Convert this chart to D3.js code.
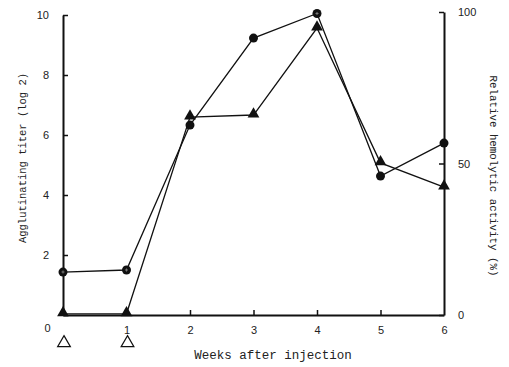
<!DOCTYPE html>
<html>
<head>
<meta charset="utf-8">
<script src="https://cdn.jsdelivr.net/npm/d3@7"></script>
<style>
  body { margin: 0; background: #fff; }
  svg { display: block; }
  .tick text { font-family: "Liberation Sans", Arial, sans-serif; font-size: 11px; fill: #222; }
  .title { font-family: "Liberation Mono", "DejaVu Sans Mono", monospace; fill: #222; }
</style>
</head>
<body>
<div id="chart"></div>
<script>
// weeks after injection
let weeks = [0, 1, 2, 3, 4, 5, 6];
// agglutinating titer (log 2), circles, left axis
let titer = [1.43, 1.5, 6.33, 9.23, 10.05, 4.63, 5.73];
// relative hemolytic activity (%), triangles, right axis
let hemolytic = [0.4, 0.4, 65.3, 66, 94.7, 50.2, 42.2];
// injection times (open triangles under the axis)
let injections = [0, 1];

let leftTicks = [0, 2, 4, 6, 8, 10];
let rightTicks = [0, 50, 100];

let svgWidth = 509;
let svgHeight = 367;

let svg = d3.select("#chart")
  .append("svg")
  .attr("width", svgWidth)
  .attr("height", svgHeight);

let x = d3.scaleLinear().domain([0, 6]).range([63, 444]);
let yLeft = d3.scaleLinear().domain([0, 10]).range([315, 15]);
let yRight = d3.scaleLinear().domain([0, 100]).range([315, 12]);

// axes
let leftAxis = d3.axisLeft(yLeft).tickValues(leftTicks).tickSizeInner(-5).tickSizeOuter(0).tickPadding(14);
let gL = svg.append("g").attr("transform", `translate(${x(0)},0)`).call(leftAxis);
gL.selectAll(".tick").filter(d => d === 0).select("text").remove();

let rightAxis = d3.axisRight(yRight).tickValues(rightTicks).tickSizeInner(-5).tickSizeOuter(0).tickPadding(14);
svg.append("g").attr("transform", `translate(${x(6)},0)`).call(rightAxis);

let bottomAxis = d3.axisBottom(x).tickValues(weeks).tickFormat(d3.format("d"))
  .tickSizeInner(-5).tickSizeOuter(0).tickPadding(11);
let gB = svg.append("g").attr("transform", `translate(0,${yLeft(0)})`).call(bottomAxis);
gB.selectAll(".tick").filter(d => d === 0 || d === 6).select("line").remove();
gB.selectAll(".tick").filter(d => d === 0).select("text").attr("dx", -16).attr("dy", "0.5em");

svg.selectAll(".domain").attr("stroke", "#111").attr("stroke-width", 2);
svg.selectAll(".tick line").attr("stroke", "#111").attr("stroke-width", 1.5);

// series lines
let lineL = d3.line().x((d, i) => x(weeks[i])).y(d => yLeft(d));
let lineR = d3.line().x((d, i) => x(weeks[i])).y(d => yRight(d));

svg.append("path").datum(titer)
  .attr("d", lineL).attr("fill", "none").attr("stroke", "#111").attr("stroke-width", 1.3);
svg.append("path").datum(hemolytic)
  .attr("d", lineR).attr("fill", "none").attr("stroke", "#111").attr("stroke-width", 1.3);

// circle markers
svg.selectAll(".dot").data(titer).enter()
  .append("circle")
  .attr("cx", (d, i) => x(weeks[i]))
  .attr("cy", d => yLeft(d))
  .attr("r", 4.5)
  .attr("fill", "#111");

// faint light centre on some of the circles
svg.selectAll(".dotmark").data(titer).enter()
  .filter((d, i) => i < 2 || i === 4)
  .append("path")
  .attr("d", d3.symbol(d3.symbolCross, 5))
  .attr("transform", (d, i) => `translate(${x(weeks[i === 2 ? 4 : i])},${yLeft(d)})`)
  .attr("fill", "#777");

// triangle markers
let tri = d3.symbol(d3.symbolTriangle, 60);
svg.selectAll(".tri").data(hemolytic).enter()
  .append("path")
  .attr("d", tri)
  .attr("transform", (d, i) => `translate(${x(weeks[i])},${yRight(d) - 1})`)
  .attr("fill", "#111");

// injection markers
svg.selectAll(".inj").data(injections).enter()
  .append("path")
  .attr("d", d3.symbol(d3.symbolTriangle, 70))
  .attr("transform", d => `translate(${x(d) + 1},343)`)
  .attr("fill", "none")
  .attr("stroke", "#111")
  .attr("stroke-width", 1.2);

// titles
svg.append("text").attr("class", "title")
  .attr("x", 273).attr("y", 359)
  .attr("text-anchor", "middle")
  .style("font-size", "12.5px")
  .text("Weeks after injection");

svg.append("text").attr("class", "title")
  .attr("transform", "translate(26,158) rotate(-90)")
  .attr("text-anchor", "middle")
  .style("font-size", "10.5px")
  .text("Agglutinating titer (log 2)");

svg.append("text").attr("class", "title")
  .attr("transform", "translate(490,176) rotate(90)")
  .attr("text-anchor", "middle")
  .style("font-size", "10.8px")
  .text("Relative hemolytic activity (%)");
</script>
</body>
</html>
